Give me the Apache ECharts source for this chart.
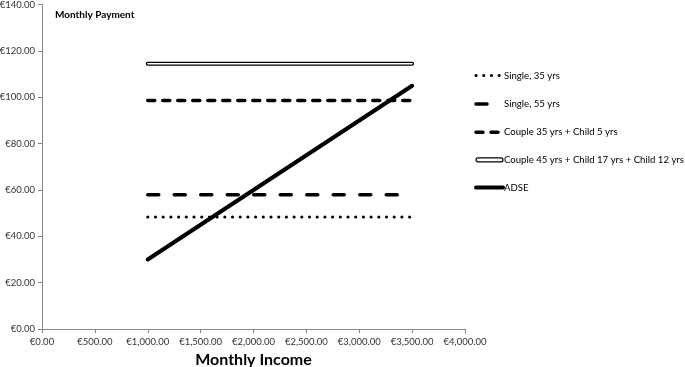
<!DOCTYPE html>
<html><head><meta charset="utf-8">
<script src="https://cdn.jsdelivr.net/npm/echarts@6/dist/echarts.min.js"></script>
<style>html,body{margin:0;padding:0;background:#fff}#c{width:685px;height:367px}</style>
</head><body><div id="c"></div>
<script>
const incomes = [1000, 1500, 2000, 2500, 3000, 3500];
const single35 = [48.3, 48.3, 48.3, 48.3, 48.3, 48.3];
const single55 = [58, 58, 58, 58, 58, 58];
const couple35 = [98.6, 98.6, 98.6, 98.6, 98.6, 98.6];
const couple45 = [114.5, 114.5, 114.5, 114.5, 114.5, 114.5];
const adse = [30, 45, 60, 75, 90, 105];
const names = ['Single, 35 yrs', 'Single, 55 yrs', 'Couple 35 yrs + Child 5 yrs', 'Couple 45 yrs + Child 17 yrs + Child 12 yrs', 'ADSE'];
const xTicks = {min: 0, max: 4000, interval: 500};
const yTicks = {min: 0, max: 140, interval: 20};

function pts(v){ return incomes.map((x,i)=>[x, v[i]]); }
function eur(v){ return '€' + v.toLocaleString('en-US',{minimumFractionDigits:2, maximumFractionDigits:2}); }
const font = 'Lato, "Open Sans", sans-serif';
const hidden = {color:'transparent', borderColor:'transparent', borderWidth:0, opacity:0};
const chart = echarts.init(document.getElementById('c'), null, {renderer:'canvas'});
chart.setOption({
  animation:false,
  textStyle:{fontFamily:font},
  title:{text:'Monthly Payment', left:50, top:5, textStyle:{fontSize:10, fontWeight:'bold', color:'#000', fontFamily:font}},
  grid:{left:42, right:220, top:4.7, bottom:38, outerBoundsMode:'none', containLabel:false},
  legend:{
    orient:'vertical', left:474, top:70, padding:0, itemWidth:27, itemHeight:14, itemGap:17.1,
    textStyle:{fontSize:9.6, color:'#000', fontFamily:font, padding:[0,0,0,-4]},
    data:[
      {name:names[0], itemStyle:hidden, lineStyle:{width:3, type:[0.1,7.6], cap:'round', color:'#000'}},
      {name:names[1], itemStyle:hidden, lineStyle:{width:3.5, type:[11,30], cap:'round', color:'#000'}},
      {name:names[2], itemStyle:hidden, lineStyle:{width:3.5, type:[7,8], cap:'round', color:'#000'}},
      {name:names[3], icon:'path://M2,0 L26,0 A2,2 0 0 1 26,4 L2,4 A2,2 0 0 1 2,0 Z', itemStyle:{color:'#fff', borderColor:'#000', borderWidth:1.2}},
      {name:names[4], itemStyle:hidden, lineStyle:{width:4, cap:'round', color:'#000'}}
    ]
  },
  xAxis:{type:'value', min:xTicks.min, max:xTicks.max, interval:xTicks.interval,
    name:'Monthly Income', nameLocation:'middle', nameGap:20,
    nameTextStyle:{fontSize:16, fontWeight:'bold', color:'#000', fontFamily:font},
    axisLine:{lineStyle:{color:'#888'}}, axisTick:{show:true, length:4, lineStyle:{color:'#888'}},
    splitLine:{show:false},
    axisLabel:{formatter:eur, fontSize:9.5, color:'#333', margin:8}},
  yAxis:{type:'value', min:yTicks.min, max:yTicks.max, interval:yTicks.interval,
    axisLine:{show:true, lineStyle:{color:'#888'}}, axisTick:{show:true, length:4, lineStyle:{color:'#888'}},
    splitLine:{show:false},
    axisLabel:{formatter:eur, fontSize:9.5, color:'#333', margin:7}},
  series:[
    {name:names[0], type:'line', data:pts(single35), symbol:'none', lineStyle:{color:'#000', width:3, type:[0.1,7.6], cap:'round'}, itemStyle:{color:'#000'}},
    {name:names[1], type:'line', data:pts(single55), symbol:'none', lineStyle:{color:'#000', width:3.5, type:[11,15.5], cap:'round'}, itemStyle:{color:'#000'}},
    {name:names[2], type:'line', data:pts(couple35), symbol:'none', lineStyle:{color:'#000', width:3.5, type:[7,8], cap:'round'}, itemStyle:{color:'#000'}},
    {name:names[3], type:'line', data:pts(couple45), symbol:'none', lineStyle:{color:'#000', width:4, cap:'round'}, itemStyle:{color:'#000'}},
    {name:names[3]+' inner', type:'line', data:pts(couple45), symbol:'none', lineStyle:{color:'#fff', width:1.4, cap:'round'}, itemStyle:{color:'#fff'}, silent:true},
    {name:names[4], type:'line', data:pts(adse), symbol:'none', lineStyle:{color:'#000', width:4, cap:'round'}, itemStyle:{color:'#000'}}
  ]
});
</script></body></html>
